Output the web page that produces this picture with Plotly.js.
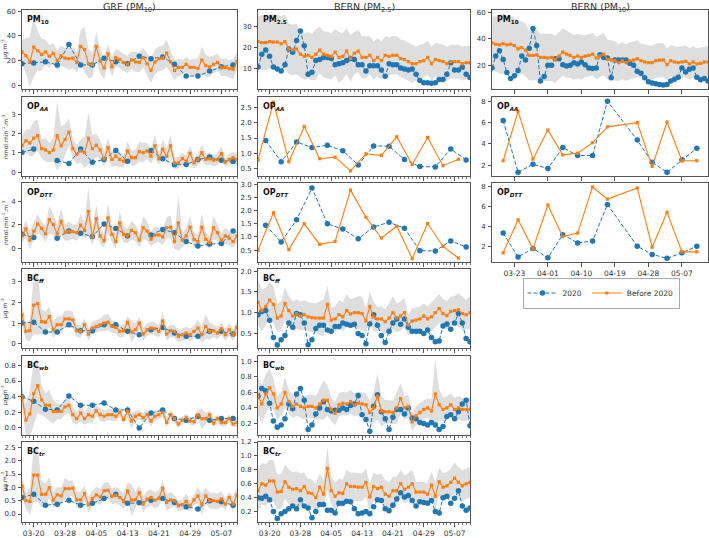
<!DOCTYPE html>
<html><head><meta charset="utf-8">
<script src="https://cdn.plot.ly/plotly-3.0.1.min.js"></script>
<style>html,body{margin:0;padding:0;background:#fff}#chart{width:709px;height:538px}</style>
</head><body><div id="chart"></div>
<script>
// ===================== DATA =====================
const greDates = ['03-17','03-18','03-19','03-20','03-21','03-22','03-23','03-24','03-25','03-26','03-27','03-28','03-29','03-30','03-31',
 '04-01','04-02','04-03','04-04','04-05','04-06','04-07','04-08','04-09','04-10','04-11','04-12','04-13','04-14','04-15','04-16','04-17','04-18','04-19','04-20','04-21','04-22','04-23','04-24','04-25','04-26','04-27','04-28','04-29','04-30',
 '05-01','05-02','05-03','05-04','05-05','05-06','05-07','05-08','05-09','05-10','05-11'];
const greBlueDates = ['03-17','03-20','03-23','03-26','03-29','04-01','04-04','04-07','04-10','04-13','04-16','04-19','04-22','04-25','04-28','05-01','05-04','05-07','05-10'];
const bernDates = greDates;
const bern10Dates = greDates.concat(['05-12','05-13','05-14']);
const bernOpOrangeDates = ['03-17','03-21','03-25','03-29','04-02','04-06','04-10','04-14','04-18','04-22','04-26','04-30','05-04','05-08'];
const bernOpBlueDates = ['03-19','03-23','03-27','03-31','04-04','04-08','04-12','04-16','04-20','04-24','04-28','05-02','05-06','05-10'];
const bern10OpDates = ['03-20','03-24','03-28','04-01','04-05','04-09','04-13','04-17','04-25','04-29','05-03','05-07','05-11'];

// GRE (PM10)
const grePM10 = [27,24,19,31,28,25,27,23.5,26,20,24,22,21.5,22,18.5,31.5,29,17.5,16.5,31.5,19.5,14,25.5,15,22.5,21,18.5,17,20.5,19,18.5,22.5,17.5,12,19,21.5,22,26,19,12,14.5,14.5,17,14.5,14.5,13.5,20.5,16,15,17,18.5,14.5,14.5,13.5,13,19.5];
const grePM10Std = [10,14,20,24,16,13,10,9,8,8,8,8,9,8,8,13,18,12,10,12,10,9,8,8,7,7,7,7,7,8,8,8,9,10,10,10,10,11,9,8,7,6,6,6,7,8,11,9,8,7,7,7,7,7,8,7];
const grePM10Blue = [17.5,18,19,16.5,33,16.5,16.5,22,19,17.5,23.5,21.5,23,17,7.5,7.5,11.5,15,16.5];

const greOPAA = [1.37,1.63,1.51,1.76,1.9,1.22,1.15,1.01,1.15,1.9,1.37,1.69,2.08,1.22,0.92,1.1,1.01,1.76,1.22,1.4,1.15,0.69,1.28,0.66,0.83,0.66,0.57,1.1,0.75,0.75,1.07,1.01,1.1,0.83,1.37,0.69,1.19,0.83,1.37,0.48,0.48,0.71,0.57,0.98,0.48,0.66,1.01,0.66,0.69,0.62,0.66,0.96,0.52,0.66,0.75,0.66];
const greOPAAStd = [0.5,0.6,0.7,0.9,0.8,0.5,0.6,0.5,0.6,1.8,1.0,0.8,0.7,0.5,0.5,0.6,0.8,1.35,0.7,0.6,0.5,0.4,0.5,0.4,0.5,0.4,0.3,0.5,0.4,0.4,0.5,0.5,0.4,0.4,0.6,0.3,0.5,0.4,0.6,0.3,0.3,0.3,0.3,0.4,0.3,0.3,0.4,0.3,0.3,0.3,0.3,0.4,0.2,0.3,0.3,0.3];
const greOPAABlue = [1.02,1.2,null,0.6,0.45,1.2,0.52,0.65,1.12,0.56,null,1.12,0.7,0.38,0.4,0.65,0.78,0.62,0.55];

const greOPDTT = [1.04,1.66,0.68,1.46,2.08,1.69,1.24,2.45,2.03,1.24,2.31,1.32,1.46,1.41,1.32,1.97,1.52,3.15,0.96,2.54,1.04,0.62,2.59,1.18,0.56,2.17,1.18,1.04,1.52,1.32,0.68,1.75,1.46,0.76,1.13,1.13,0.96,1.75,1.8,0.56,2.17,0.68,1.04,1.8,0.73,0.56,1.8,0.76,0.48,1.75,1.32,0.68,1.04,0.85,0.56,1.04];
const greOPDTTStd = [0.6,0.7,0.8,0.7,0.8,0.6,0.7,1.2,0.9,0.7,1.1,0.7,0.8,0.6,0.7,0.9,0.7,2.1,0.7,1.2,0.7,0.6,1.3,0.7,0.6,1.0,0.7,0.6,0.8,0.7,0.6,1.0,0.8,0.6,0.7,0.6,0.7,0.9,1.0,0.6,2.4,0.6,0.7,1.0,0.6,0.6,1.2,0.6,0.5,1.0,0.7,0.6,0.7,0.6,0.5,0.6];
const greOPDTTBlue = [1.18,0.9,null,0.85,1.46,1.27,0.99,2.08,1.69,1.04,null,1.13,1.6,1.32,0.56,0.17,0.34,0.39,1.46];

const greBCff = [1.39,0.6,0.63,1.86,1.94,1.07,1.04,1.31,0.68,0.92,0.92,1.2,1.2,1.15,0.63,0.6,0.92,0.47,0.76,0.84,0.92,1.0,1.04,0.84,0.79,0.6,0.63,1.04,0.57,0.68,1.0,0.47,0.68,0.76,0.73,0.6,1.1,0.47,0.63,0.6,0.36,0.44,0.52,0.44,0.6,0.76,0.44,0.84,0.6,0.63,0.52,0.73,0.44,0.68,0.44,0.79];
const greBCffStd = [0.5,0.4,0.5,1.4,1.5,0.6,0.5,0.5,0.4,0.4,0.4,0.4,0.4,0.4,0.3,0.3,0.3,0.3,0.3,0.3,0.3,0.4,0.4,0.3,0.3,0.3,0.3,0.3,0.5,0.3,0.3,0.3,0.3,0.3,0.3,0.3,0.4,0.3,0.3,0.3,0.3,0.3,0.3,0.3,0.3,0.4,0.4,0.6,0.4,0.3,0.3,0.3,0.3,0.3,0.3,0.3];
const greBCffBlue = [1.0,1.04,0.57,0.57,0.92,0.63,0.63,0.92,0.92,0.6,0.44,0.68,0.79,0.52,0.36,0.36,0.6,0.6,0.47];

const greBCwb = [0.40,0.10,0.18,0.44,0.54,0.36,0.29,0.29,0.21,0.21,0.21,0.27,0.29,0.17,0.12,0.19,0.12,0.17,0.15,0.22,0.17,0.15,0.17,0.17,0.15,0.2,0.11,0.21,0.09,0.15,0.17,0.13,0.17,0.09,0.15,0.17,0.2,0.07,0.17,0.12,0.05,0.1,0.13,0.09,0.08,0.17,0.12,0.12,0.17,0.06,0.12,0.07,0.07,0.12,0.05,0.07];
const greBCwbStd = [0.15,0.2,0.3,0.4,0.35,0.2,0.15,0.2,0.15,0.1,0.1,0.1,0.1,0.1,0.08,0.1,0.08,0.1,0.08,0.07,0.08,0.07,0.07,0.08,0.06,0.06,0.06,0.08,0.1,0.07,0.06,0.06,0.06,0.07,0.06,0.06,0.06,0.06,0.06,0.05,0.05,0.05,0.05,0.05,0.05,0.06,0.13,0.07,0.06,0.05,0.05,0.05,0.05,0.05,0.04,0.05];
const greBCwbBlue = [0.40,0.34,0.24,0.23,0.41,0.29,0.29,0.32,0.23,0.23,0.0,0.19,0.23,0.12,0.1,0.15,0.1,0.12,0.12];

const greBCtr = [1.05,0.5,0.47,1.46,1.46,0.74,0.74,0.99,0.52,0.72,0.68,0.95,0.95,0.97,0.53,0.53,0.77,0.35,0.58,0.72,0.64,0.87,0.89,0.66,0.71,0.62,0.47,0.87,0.52,0.53,0.8,0.37,0.56,0.62,0.52,0.59,0.97,0.43,0.53,0.5,0.31,0.35,0.47,0.31,0.53,0.68,0.37,0.68,0.5,0.5,0.47,0.56,0.37,0.62,0.37,0.72];
const greBCtrStd = [0.4,0.3,0.5,1.0,1.0,0.5,0.4,0.4,0.3,0.3,0.3,0.4,0.3,0.3,0.3,0.3,0.3,0.3,0.3,0.3,0.3,0.3,0.3,0.3,0.3,0.3,0.3,0.3,0.6,0.3,0.3,0.3,0.3,0.3,0.3,0.3,0.3,0.3,0.3,0.2,0.2,0.2,0.3,0.2,0.2,0.3,0.4,0.3,0.3,0.3,0.3,0.3,0.2,0.2,0.3,0.3];
const greBCtrBlue = [0.62,0.74,0.33,0.37,0.52,0.33,0.4,0.58,0.74,0.4,0.42,0.52,0.58,0.43,0.27,0.19,0.5,0.46,0.33];

// BERN (PM2.5)
const bernPM25 = [23,22.5,22.5,23,22.8,22.8,22,23,19.5,19,19.5,17,16,16.5,15.5,17,19,17,16.5,16,18,15.5,16,18.5,15,17.5,18.5,15.5,15.5,16.5,14,15.5,14,16.5,16,16.5,16.5,15,14.5,13.5,12.5,12.5,13.5,14,15.5,12.5,14.5,14,13.5,12.5,13.5,13.5,13.5,12.5,13,13];
const bernPM25Std = [12,13,13,13,13,13,13,13,12,12,12,11,11,11,11,12,11,11,11,11,11,12,11,11,11,10,10,10,10,9,9,9,9,9,9,9,9,9,9,9,9,8,8,8,8,8,8,8,8,8,8,8,8,8,8,8];
const bernPM25Blue = [11,17,19,16,11,10,9,12,19.5,18,23.5,28,21,7.5,8.5,14,14.5,15.5,15.5,15,12,12.5,13,14,15,14.5,12,12,9,11.5,11.5,11.5,9.5,6.5,12.5,12,12,10.5,10,9.5,10,7.5,4.5,3.5,3.5,3.2,3.5,5,5,7.5,13,9.5,9.5,11,7.5,6];

const bernOPAA = [0.77,2.68,0.72,1.88,0.82,0.87,0.42,0.98,0.93,1.54,0.63,1.52,0.59,0.8];
const bernOPAABlue = [1.42,0.72,1.37,1.19,1.26,1.08,0.61,1.24,1.23,0.79,0.56,0.55,1.14,0.78];
const bernOPDTT = [0.5,1.92,0.52,1.5,0.72,0.83,2.78,1.75,0.96,1.41,0.18,1.51,0.64,0.2];
const bernOPDTTBlue = [1.45,0.81,1.65,2.86,1.5,1.3,0.93,1.38,1.56,1.33,0.48,0.47,0.85,0.62];

const bernBCff = [1.25,1.05,1.15,1.3,1.2,0.87,0.92,1.22,1.05,0.92,0.97,0.92,0.95,0.9,0.88,0.87,0.87,0.87,1.2,0.82,0.85,0.95,0.9,1.05,0.97,1.0,1.0,0.98,0.8,1.15,0.9,0.85,0.85,0.78,0.87,1.0,0.87,0.92,1.0,0.7,0.8,0.82,0.85,0.92,0.85,0.9,1.0,1.1,0.98,0.93,1.03,1.05,1.07,0.98,0.95,1.0];
const bernBCffStd = [0.55,0.5,0.45,0.45,0.45,0.35,0.35,0.4,0.35,0.35,0.35,0.35,0.35,0.35,0.35,0.35,0.4,0.45,0.45,0.3,0.3,0.35,0.35,0.4,0.35,0.35,0.4,0.4,0.3,0.35,0.35,0.3,0.3,0.3,0.35,0.4,0.35,0.35,0.35,0.25,0.3,0.3,0.3,0.3,0.3,0.35,0.35,0.35,0.35,0.35,0.35,0.35,0.4,0.4,0.35,0.4];
const bernBCffBlue = [0.95,1.03,1.05,0.82,0.4,0.22,0.35,0.45,0.75,0.65,0.98,0.95,0.75,0.23,0.35,0.62,0.7,0.7,0.58,0.55,0.67,0.67,0.75,0.72,0.7,0.72,0.5,0.45,0.25,0.73,0.95,0.7,0.45,0.28,0.55,0.75,0.85,0.72,0.85,0.65,0.55,0.55,0.55,0.5,0.58,0.4,0.3,0.32,0.68,0.73,0.6,0.75,0.98,0.75,0.38,0.3];

const bernBCwb = [0.55,0.45,0.58,0.66,0.58,0.4,0.45,0.6,0.48,0.42,0.45,0.42,0.4,0.42,0.42,0.4,0.45,0.5,0.5,0.38,0.33,0.44,0.46,0.45,0.48,0.44,0.46,0.45,0.44,0.34,0.4,0.55,0.36,0.35,0.35,0.34,0.4,0.52,0.4,0.42,0.22,0.3,0.34,0.38,0.4,0.36,0.58,0.44,0.38,0.4,0.44,0.38,0.4,0.38,0.38,0.38];
const bernBCwbStd = [0.25,0.25,0.25,0.25,0.2,0.15,0.15,0.2,0.15,0.15,0.15,0.15,0.15,0.15,0.15,0.15,0.2,0.25,0.2,0.15,0.15,0.15,0.15,0.15,0.15,0.15,0.15,0.15,0.15,0.15,0.2,0.3,0.2,0.15,0.15,0.15,0.2,0.2,0.15,0.15,0.12,0.12,0.12,0.12,0.12,0.15,0.45,0.2,0.15,0.15,0.15,0.15,0.15,0.15,0.15,0.15];
const bernBCwbBlue = [0.55,0.65,0.62,0.46,0.23,0.15,0.18,0.26,0.45,0.39,0.58,0.65,0.5,0.12,0.18,0.32,0.4,0.48,0.38,0.36,0.37,0.37,0.4,0.38,0.43,0.45,0.56,0.31,0.25,0.1,0.42,0.57,0.35,0.26,0.12,0.28,0.38,0.38,0.32,0.4,0.27,0.26,0.21,0.2,0.18,0.21,0.18,0.12,0.16,0.29,0.31,0.26,0.35,0.45,0.5,0.17];

const bernBCtr = [0.5,0.6,0.58,0.64,0.64,0.48,0.49,0.63,0.55,0.52,0.53,0.5,0.56,0.47,0.46,0.4,0.55,0.45,0.82,0.5,0.42,0.47,0.46,0.6,0.56,0.56,0.55,0.55,0.62,0.41,0.56,0.53,0.55,0.45,0.42,0.5,0.5,0.6,0.52,0.55,0.6,0.48,0.48,0.48,0.45,0.58,0.42,0.63,0.55,0.57,0.62,0.68,0.62,0.57,0.6,0.62];
const bernBCtrStd = [0.3,0.3,0.3,0.3,0.3,0.25,0.25,0.25,0.25,0.25,0.25,0.25,0.2,0.2,0.2,0.2,0.2,0.2,0.3,0.2,0.2,0.2,0.2,0.2,0.2,0.2,0.2,0.2,0.2,0.2,0.2,0.2,0.2,0.2,0.2,0.2,0.2,0.2,0.2,0.2,0.2,0.15,0.15,0.15,0.15,0.2,0.2,0.2,0.2,0.2,0.2,0.22,0.22,0.22,0.22,0.22];
const bernBCtrBlue = [0.4,0.39,0.42,0.37,0.2,0.1,0.17,0.2,0.24,0.28,0.24,0.37,0.28,0.25,0.11,0.2,0.3,0.3,0.22,0.22,0.18,0.32,0.32,0.35,0.34,0.24,0.17,0.18,0.2,0.17,0.27,0.37,0.36,0.24,0.21,0.29,0.38,0.47,0.41,0.43,0.36,0.28,0.34,0.33,0.32,0.36,0.2,0.18,0.4,0.42,0.32,0.39,0.5,0.28,0.22,0.25];

// BERN (PM10)
const bern10PM10 = [37,36,35.5,36.5,35.5,36,35,32.5,33.5,31.5,27.5,27.5,28,26,26,25.5,26,24.5,27,30,28.5,27.5,26,27,26,27,27.5,28.5,25.5,27,28.5,24.5,24,23.5,22,23.5,22,23.5,24,25,23.5,22.5,22,22,23.5,24,24,20.5,23.5,22.5,22,22.5,23,21,22.5,21,21.5,22.5,22.5];
const bern10PM10Std = [20,21,22,23,22,22,21,21,20,20,19,19,19,18,18,18,18,18,18,18,18,17,17,17,17,16,16,16,16,16,16,15,15,15,14,14,14,14,14,14,13,13,13,13,13,13,13,12,12,12,12,12,12,12,12,12,12,12,12];
const bern10PM10Blue = [18,27,31,24.5,14.5,10,12,16,27,24,33,48,35,8,11.5,20,20,25,25,20.5,19.5,20,22,21,22.5,20.5,18,17.5,18,28,26,25.5,10.5,24,24,24,24,21.5,20,15.5,14,10.5,7.5,6.5,6,5.5,5,5.5,8,9.5,11,18,15,17,18,11,9,10,8];
const bern10OPAA = [2.43,7.05,2.58,5.3,2.98,3.14,4.12,5.6,6.0,1.9,6.06,2.43,2.43];
const bern10OPAABlue = [6.2,1.35,2.1,1.7,3.66,2.92,2.92,8.0,4.37,2.28,1.35,2.52,3.6];
const bern10OPDTT = [1.33,4.67,1.73,6.17,2.97,3.33,8.0,6.77,7.9,1.9,5.43,1.43,1.43];
const bern10OPDTTBlue = [3.33,0.9,1.77,0.83,3.17,2.33,2.53,6.23,2.0,1.17,0.77,1.33,2.0];

const colTitles = ['GRE (PM<sub>10</sub>)', 'BERN (PM<sub>2.5</sub>)', 'BERN (PM<sub>10</sub>)'];

// ===================== LAYOUT / DRAW =====================
const W = 709, H = 538;
const px = x => x / W, py = y => 1 - y / H;
const colX = [[22, 237], [258, 470], [492, 708]];
const rowTop = [10, 97, 183, 269, 356, 442], rowBot = [89, 176, 262, 348, 435, 522];
const DAY = 86400000;
const D = a => a.map(s => '2020-' + s);
const UG = 'μg.m<sup>-3</sup>', NM = 'nmol.min<sup>-1</sup>.m<sup>-3</sup>';

const panels = [
 {c:0,r:0, ox:greDates, oy:grePM10, sd:grePM10Std, bx:greBlueDates, by:grePM10Blue, yr:[-3,61], dt:20, fmt:'d', lab:'PM<sub>10</sub>', yt:UG},
 {c:0,r:1, ox:greDates, oy:greOPAA, sd:greOPAAStd, bx:greBlueDates, by:greOPAABlue, yr:[-0.2,3.9], dt:1, fmt:'d', lab:'OP<sub><i>AA</i></sub>', yt:NM},
 {c:0,r:2, ox:greDates, oy:greOPDTT, sd:greOPDTTStd, bx:greBlueDates, by:greOPDTTBlue, yr:[-1.2,5.6], dt:2, fmt:'d', lab:'OP<sub><i>DTT</i></sub>', yt:NM},
 {c:0,r:3, ox:greDates, oy:greBCff, sd:greBCffStd, bx:greBlueDates, by:greBCffBlue, yr:[-0.2,3.6], dt:1, fmt:'d', lab:'BC<sub><i>ff</i></sub>', yt:UG},
 {c:0,r:4, ox:greDates, oy:greBCwb, sd:greBCwbStd, bx:greBlueDates, by:greBCwbBlue, yr:[-0.09,0.92], dt:0.2, fmt:'.1f', lab:'BC<sub><i>wb</i></sub>', yt:UG},
 {c:0,r:5, ox:greDates, oy:greBCtr, sd:greBCtrStd, bx:greBlueDates, by:greBCtrBlue, yr:[-0.3,2.7], dt:0.5, fmt:'.1f', lab:'BC<sub><i>tr</i></sub>', yt:UG},
 {c:1,r:0, ox:bernDates, oy:bernPM25, sd:bernPM25Std, bx:bernDates, by:bernPM25Blue, yr:[0.5,38], dt:10, fmt:'d', lab:'PM<sub>2.5</sub>'},
 {c:1,r:1, ox:bernOpOrangeDates, oy:bernOPAA, bx:bernOpBlueDates, by:bernOPAABlue, yr:[0.25,2.85], dt:0.5, fmt:'.1f', lab:'OP<sub><i>AA</i></sub>'},
 {c:1,r:2, ox:bernOpOrangeDates, oy:bernOPDTT, bx:bernOpBlueDates, by:bernOPDTTBlue, yr:[0.05,3.05], dt:0.5, fmt:'.1f', lab:'OP<sub><i>DTT</i></sub>'},
 {c:1,r:3, ox:bernDates, oy:bernBCff, sd:bernBCffStd, bx:bernDates, by:bernBCffBlue, yr:[0.15,2.05], dt:0.5, fmt:'.1f', lab:'BC<sub><i>ff</i></sub>'},
 {c:1,r:4, ox:bernDates, oy:bernBCwb, sd:bernBCwbStd, bx:bernDates, by:bernBCwbBlue, yr:[0.05,1.07], dt:0.2, fmt:'.1f', lab:'BC<sub><i>wb</i></sub>'},
 {c:1,r:5, ox:bernDates, oy:bernBCtr, sd:bernBCtrStd, bx:bernDates, by:bernBCtrBlue, yr:[0.05,1.2], dt:0.2, fmt:'.1f', lab:'BC<sub><i>tr</i></sub>'},
 {c:2,r:0, ox:bern10Dates, oy:bern10PM10, sd:bern10PM10Std, bx:bern10Dates, by:bern10PM10Blue, yr:[2,62], dt:20, fmt:'d', lab:'PM<sub>10</sub>'},
 {c:2,r:1, ox:bern10OpDates, oy:bern10OPAA, bx:bern10OpDates, by:bern10OPAABlue, yr:[1.0,8.4], dt:2, fmt:'d', lab:'OP<sub><i>AA</i></sub>'},
 {c:2,r:2, ox:bern10OpDates, oy:bern10OPDTT, bx:bern10OpDates, by:bern10OPDTTBlue, yr:[0.4,8.4], dt:2, fmt:'d', lab:'OP<sub><i>DTT</i></sub>'}
];

const BLUE = '#1f77b4', ORANGE = '#ff7f0e', BAND = '#dedede', FRAME = '#555', TXT = '#333';
const FONT = 'DejaVu Sans, Liberation Sans, sans-serif';
const traces = [];
const layout = {
  width: W, height: H, margin: {l:0, r:0, t:0, b:0},
  paper_bgcolor: '#fff', plot_bgcolor: '#fff',
  font: {family: FONT, size: 8, color: TXT},
  showlegend: true,
  legend: {orientation: 'h', x: px(601), y: py(293), xanchor: 'center', yanchor: 'middle',
           bgcolor: '#fff', bordercolor: '#aaa', borderwidth: 1, font: {size: 7.5, color: TXT},
           itemwidth: 30, tracegroupgap: 0},
  annotations: [], shapes: []
};

let legendDone = false;
panels.forEach((p, i) => {
  const n = i + 1, sfx = n === 1 ? '' : String(n);
  const xa = 'x' + sfx, ya = 'y' + sfx;
  const lastRow = (p.c < 2 && p.r === 5) || (p.c === 2 && p.r === 2);
  const xr = p.c === 2 ? ['2020-03-17', '2020-05-14'] : ['2020-03-17', '2020-05-11'];
  const xaxis = {
    type: 'date', domain: [px(colX[p.c][0]), px(colX[p.c][1])], anchor: ya, range: xr,
    showline: true, mirror: true, linecolor: FRAME, linewidth: 1,
    showgrid: false, zeroline: false, ticks: 'outside', ticklen: 3.5, tickcolor: FRAME, tickwidth: 1,
    tick0: p.c === 2 ? '2020-03-23' : '2020-03-20', dtick: (p.c === 2 ? 9 : 8) * DAY,
    tickformat: '%m-%d', showticklabels: lastRow, tickfont: {size: 7.5, color: TXT}
  };
  if (p.c < 2) xaxis.minor = {ticks: 'outside', ticklen: 2, dtick: DAY, tick0: '2020-03-17', tickcolor: FRAME, tickwidth: 0.8, showgrid: false};
  layout['xaxis' + sfx] = xaxis;
  layout['yaxis' + sfx] = {
    domain: [py(rowBot[p.r]), py(rowTop[p.r])], anchor: xa, range: p.yr,
    showline: true, mirror: true, linecolor: FRAME, linewidth: 1,
    showgrid: false, zeroline: false, ticks: 'outside', ticklen: 3, tickcolor: FRAME, tickwidth: 1,
    ticklabelstandoff: 1,
    tick0: 0, dtick: p.dt, tickformat: p.fmt, tickfont: {size: 7, color: TXT}
  };
  const ox = D(p.ox), bx = D(p.bx);
  if (p.sd) {
    const lo = p.oy.map((v, k) => v - p.sd[k]);
    const hi = p.oy.map((v, k) => v + p.sd[k]);
    traces.push({x: ox, y: lo, xaxis: xa, yaxis: ya, mode: 'lines', line: {width: 0, color: BAND}, showlegend: false, hoverinfo: 'skip'});
    traces.push({x: ox, y: hi, xaxis: xa, yaxis: ya, mode: 'lines', line: {width: 0, color: BAND}, fill: 'tonexty', fillcolor: BAND, showlegend: false, hoverinfo: 'skip'});
  }
  traces.push({x: bx, y: p.by, xaxis: xa, yaxis: ya, name: '2020', legendgroup: 'a', showlegend: !legendDone,
    mode: 'lines+markers', connectgaps: false, line: {color: BLUE, width: 1, dash: '4px,2px'},
    marker: {color: BLUE, size: 5.5, symbol: 'circle'}});
  traces.push({x: ox, y: p.oy, xaxis: xa, yaxis: ya, name: 'Before 2020', legendgroup: 'b', showlegend: !legendDone,
    mode: 'lines+markers', line: {color: ORANGE, width: 1.1},
    marker: {color: ORANGE, size: 3.2, symbol: 'square'}});
  legendDone = true;

  layout.annotations.push({xref: 'paper', yref: 'paper', x: px(colX[p.c][0] + 3), y: py(rowTop[p.r] + 3),
    xanchor: 'left', yanchor: 'top', showarrow: false, text: '<b>' + p.lab + '</b>', font: {size: 8, color: '#111'}});
  if (p.yt) {
    layout.annotations.push({xref: 'paper', yref: 'paper', x: px(4.5), y: py((rowTop[p.r] + rowBot[p.r]) / 2),
      xanchor: 'center', yanchor: 'middle', showarrow: false, textangle: -90, text: p.yt, font: {size: 6, color: TXT}});
  }
});

colTitles.forEach((t, c) => {
  layout.annotations.push({xref: 'paper', yref: 'paper', x: px((colX[c][0] + colX[c][1]) / 2), y: 1,
    xanchor: 'center', yanchor: 'top', showarrow: false, text: t, font: {size: 9.5, color: TXT},
    borderpad: 0});
});

Plotly.newPlot('chart', traces, layout, {displayModeBar: false, staticPlot: true});
</script>
</body></html>
